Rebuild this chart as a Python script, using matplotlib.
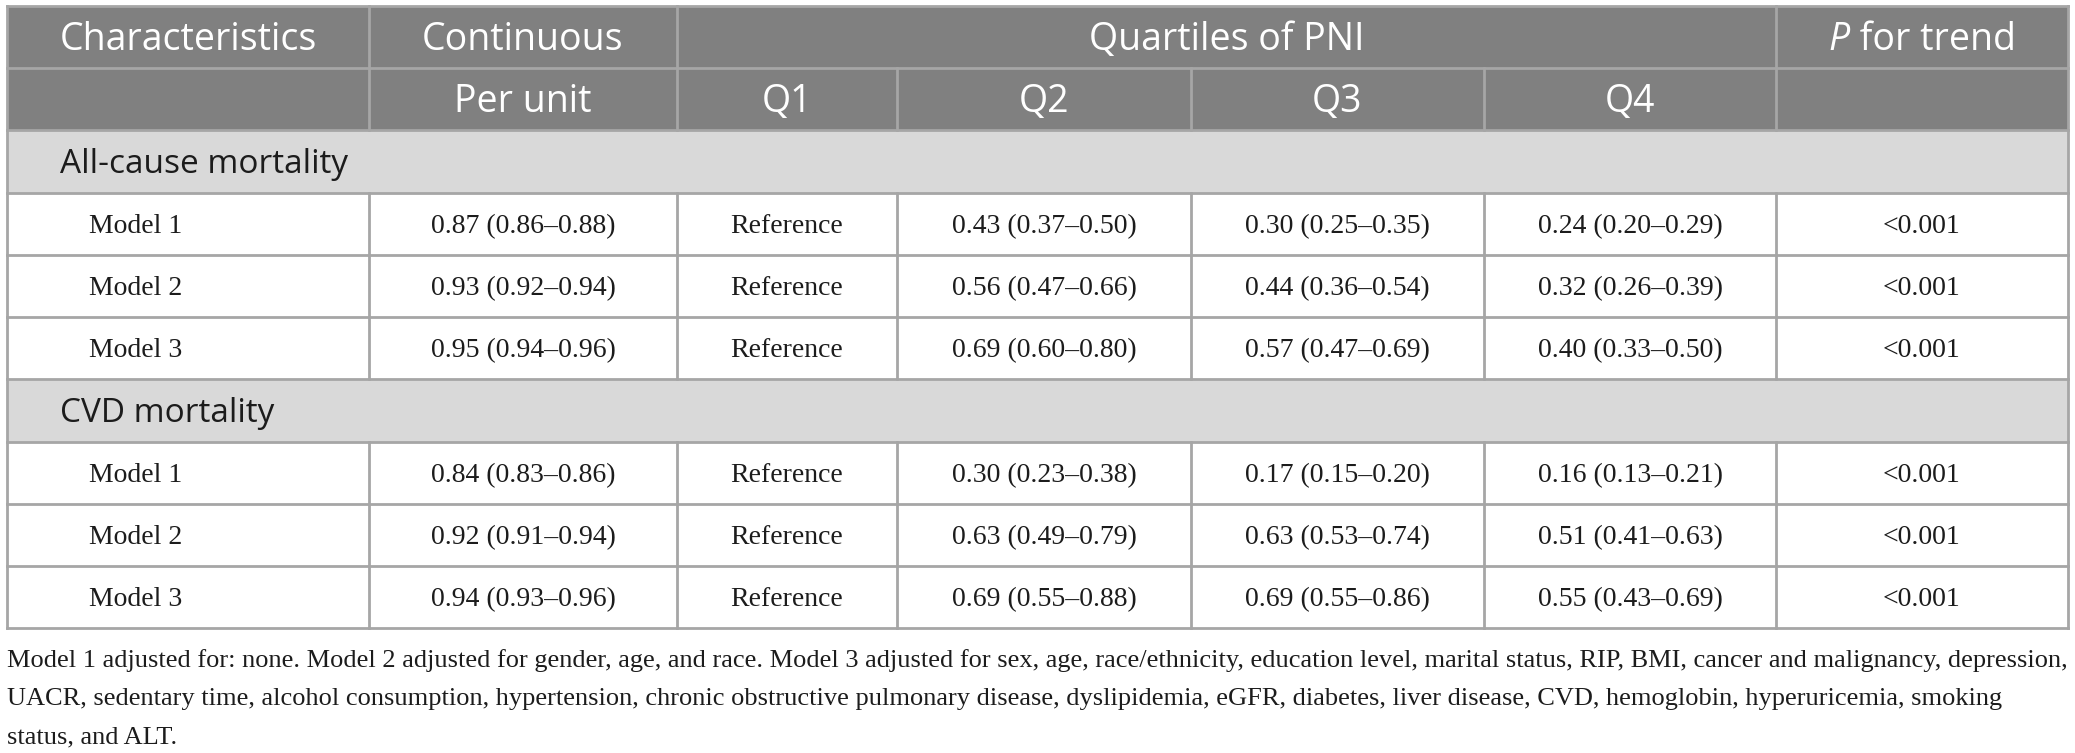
import matplotlib
matplotlib.use("Agg")
import matplotlib.pyplot as plt
from matplotlib.patches import Rectangle

# ---------------- data ----------------
models = ["Model 1", "Model 2", "Model 3"]
sections = ["All-cause mortality", "CVD mortality"]

# (HR, lower, upper) per model
allcause_per_unit = [(0.87, 0.86, 0.88), (0.93, 0.92, 0.94), (0.95, 0.94, 0.96)]
allcause_q2 = [(0.43, 0.37, 0.50), (0.56, 0.47, 0.66), (0.69, 0.60, 0.80)]
allcause_q3 = [(0.30, 0.25, 0.35), (0.44, 0.36, 0.54), (0.57, 0.47, 0.69)]
allcause_q4 = [(0.24, 0.20, 0.29), (0.32, 0.26, 0.39), (0.40, 0.33, 0.50)]
allcause_p = ["<0.001", "<0.001", "<0.001"]

cvd_per_unit = [(0.84, 0.83, 0.86), (0.92, 0.91, 0.94), (0.94, 0.93, 0.96)]
cvd_q2 = [(0.30, 0.23, 0.38), (0.63, 0.49, 0.79), (0.69, 0.55, 0.88)]
cvd_q3 = [(0.17, 0.15, 0.20), (0.63, 0.53, 0.74), (0.69, 0.55, 0.86)]
cvd_q4 = [(0.16, 0.13, 0.21), (0.51, 0.41, 0.63), (0.55, 0.43, 0.69)]
cvd_p = ["<0.001", "<0.001", "<0.001"]

q1_label = "Reference"
header_top = ["Characteristics", "Continuous", "Quartiles of PNI", "P for trend"]
header_sub = ["Per unit", "Q1", "Q2", "Q3", "Q4"]

footnote = [
    "Model 1 adjusted for: none. Model 2 adjusted for gender, age, and race. Model 3 adjusted for sex, age, race/ethnicity, education level, marital status, RIP, BMI, cancer and malignancy, depression,",
    "UACR, sedentary time, alcohol consumption, hypertension, chronic obstructive pulmonary disease, dyslipidemia, eGFR, diabetes, liver disease, CVD, hemoglobin, hyperuricemia, smoking",
    "status, and ALT.",
]

# ---------------- layout ----------------
W, H, DPI = 2075, 753, 100
fig = plt.figure(figsize=(W / DPI, H / DPI), dpi=DPI)
fig.patch.set_facecolor("white")
ax = fig.add_axes([0, 0, 1, 1])
ax.set_xlim(0, W)
ax.set_ylim(H, 0)
ax.axis("off")

col_edges = [7, 369, 677, 897, 1191, 1484, 1776, 2068]
row_edges = [6, 68, 130, 193, 255, 317, 379, 442, 504, 566, 628]

HEAD_BG = "#808080"
SEC_BG = "#d9d9d9"
LINE_C = "#a6a6a6"
LW = 2.0
TXT = "#1c1c1c"

SANS = "Open Sans"
SERIF = "Liberation Serif"
HEAD_FS = 27
SEC_FS = 24
BODY_FS = 20

def fmt(t):
    return f"{t[0]:.2f} ({t[1]:.2f}\u2013{t[2]:.2f})"

def cx(i):
    return (col_edges[i] + col_edges[i + 1]) / 2

def rc(r):
    return (row_edges[r] + row_edges[r + 1]) / 2

x0, x1 = col_edges[0], col_edges[-1]
# backgrounds
for r in range(10):
    if r in (0, 1):
        c = HEAD_BG
    elif r in (2, 6):
        c = SEC_BG
    else:
        c = "white"
    ax.add_patch(Rectangle((x0, row_edges[r]), x1 - x0, row_edges[r + 1] - row_edges[r],
                           facecolor=c, edgecolor="none", zorder=0))

# horizontal lines
for y in row_edges:
    ax.plot([x0, x1], [y, y], color=LINE_C, lw=LW, zorder=2, solid_capstyle="projecting")
# vertical lines
for x in (x0, x1):
    ax.plot([x, x], [row_edges[0], row_edges[-1]], color=LINE_C, lw=LW, zorder=2,
            solid_capstyle="projecting")
for x in (col_edges[1], col_edges[2], col_edges[6]):
    ax.plot([x, x], [row_edges[0], row_edges[1]], color=LINE_C, lw=LW, zorder=2)
for r in (1, 3, 4, 5, 7, 8, 9):
    for x in col_edges[1:-1]:
        ax.plot([x, x], [row_edges[r], row_edges[r + 1]], color=LINE_C, lw=LW, zorder=2)

# baseline offsets (cap-height / 2)
head_off = HEAD_FS * DPI / 72 * 0.714 / 2
sec_off = SEC_FS * DPI / 72 * 0.714 / 2
body_off = BODY_FS * DPI / 72 * 0.66 / 2

# header row 1
ax.text(60, rc(0) + head_off, header_top[0], family=SANS, fontsize=HEAD_FS, color="white",
        ha="left", va="baseline")
ax.text(cx(1), rc(0) + head_off, header_top[1], family=SANS, fontsize=HEAD_FS, color="white",
        ha="center", va="baseline")
ax.text((col_edges[2] + col_edges[6]) / 2, rc(0) + head_off, header_top[2], family=SANS,
        fontsize=HEAD_FS, color="white", ha="center", va="baseline")

# "P for trend" with italic P
fig.canvas.draw()
renderer = fig.canvas.get_renderer()
tP = ax.text(0, rc(0) + head_off, "P", family=SANS, style="italic", fontsize=HEAD_FS,
             color="white", ha="left", va="baseline")
tR = ax.text(0, rc(0) + head_off, " for trend", family=SANS, fontsize=HEAD_FS,
             color="white", ha="left", va="baseline")
wP = tP.get_window_extent(renderer).width
wR = tR.get_window_extent(renderer).width
start = cx(6) - (wP + wR) / 2
tP.set_x(start)
tR.set_x(start + wP)

# header row 2
for i, lab in enumerate(header_sub):
    ax.text(cx(i + 1), rc(1) + head_off, lab, family=SANS, fontsize=HEAD_FS, color="white",
            ha="center", va="baseline")

# sections
blocks = [
    (2, sections[0], [allcause_per_unit, None, allcause_q2, allcause_q3, allcause_q4], allcause_p),
    (6, sections[1], [cvd_per_unit, None, cvd_q2, cvd_q3, cvd_q4], cvd_p),
]
for r0, name, cols, pv in blocks:
    ax.text(60, rc(r0) + sec_off, name, family=SANS, fontsize=SEC_FS, color=TXT,
            ha="left", va="baseline")
    for k, m in enumerate(models):
        r = r0 + 1 + k
        yb = rc(r) + body_off
        ax.text(89, yb, m, family=SERIF, fontsize=BODY_FS, color=TXT, ha="left",
                va="baseline")
        for j, arr in enumerate(cols):
            s = q1_label if arr is None else fmt(arr[k])
            ax.text(cx(j + 1), yb, s, family=SERIF, fontsize=BODY_FS, color=TXT,
                    ha="center", va="baseline")
        ax.text(cx(6), yb, pv[k], family=SERIF, fontsize=BODY_FS, color=TXT,
                ha="center", va="baseline")

# footnote, sized to span the table width
fn_base = [667, 705, 743]
fts = []
for yb, line in zip(fn_base, footnote):
    fts.append(ax.text(x0, yb, line, family=SERIF, fontsize=20, color=TXT,
                       ha="left", va="baseline"))
fig.canvas.draw()
w1 = fts[0].get_window_extent(renderer).width
fs = 20 * (x1 - x0) / w1
for t in fts:
    t.set_fontsize(fs)

fig.savefig("out.png", dpi=DPI, facecolor="white")
